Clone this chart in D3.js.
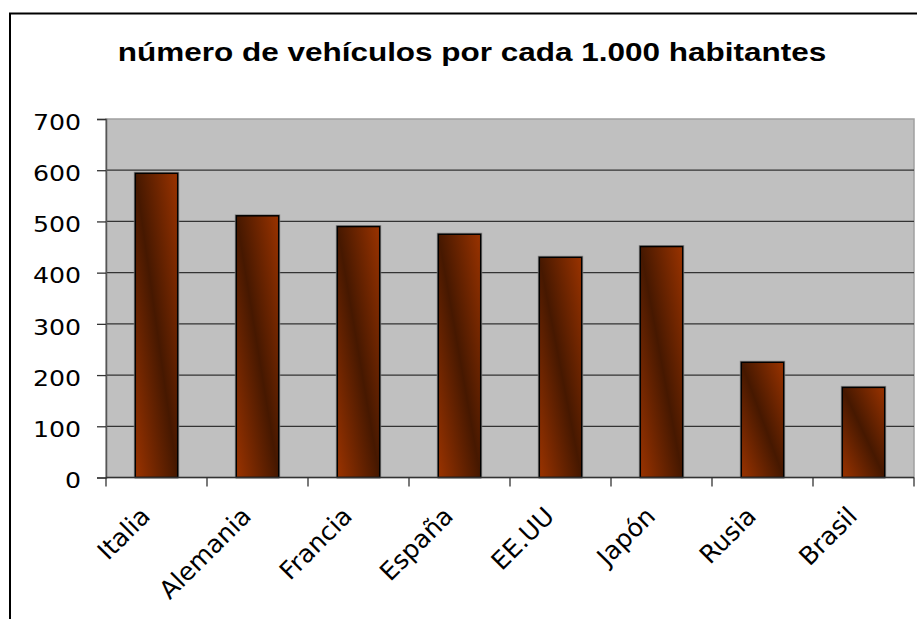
<!DOCTYPE html>
<html><head><meta charset="utf-8">
<script src="https://cdn.jsdelivr.net/npm/d3@7"></script>
<style>body{margin:0;background:#fff;}svg{display:block;}</style>
</head><body>
<script>
const categories = ["Italia","Alemania","Francia","España","EE.UU","Japón","Rusia","Brasil"];
const values = [594, 511, 490, 475, 430, 451, 225, 176];
const yTicks = [0,100,200,300,400,500,600,700];
const title = "número de vehículos por cada 1.000 habitantes";

(function(){
const W = 917, H = 619;
const svg = d3.select("body").append("svg").attr("width", W).attr("height", H);
const defs = svg.append("defs");
const g = defs.append("linearGradient").attr("id","barGrad")
  .attr("x1",0).attr("y1",1).attr("x2",1).attr("y2",0);
g.append("stop").attr("offset","0%").attr("stop-color","#9a3300");
g.append("stop").attr("offset","50%").attr("stop-color","#461800");
g.append("stop").attr("offset","100%").attr("stop-color","#9a3300");

svg.append("rect").attr("x",10).attr("y",13.5).attr("width",W).attr("height",H)
  .attr("fill","none").attr("stroke","#000").attr("stroke-width",2);

const pL = 106, pR = 914, pT = 119, pB = 477.5;
const x = d3.scaleBand().domain(categories).range([pL,pR]).paddingInner(0.58).paddingOuter(0.29);
const xb = d3.scaleBand().domain(categories).range([pL,pR]);
const y = d3.scaleLinear().domain([0,700]).range([pB,pT]);

svg.append("rect").attr("x",pL).attr("y",pT).attr("width",pR-pL).attr("height",pB-pT)
  .attr("fill","#c0c0c0").attr("stroke","#a0a0a0").attr("stroke-width",1.5);

svg.append("g").selectAll("line").data(yTicks.filter(d=>d>0 && d<700)).join("line")
  .attr("x1",pL).attr("x2",pR).attr("y1",d=>y(d)).attr("y2",d=>y(d))
  .attr("stroke","#333").attr("stroke-width",1.3);

const bars = svg.append("g");
bars.selectAll("rect.sh").data(categories).join("rect").attr("class","sh")
  .attr("x",d=>x(d)-1).attr("y",(d,i)=>y(values[i])-1)
  .attr("width",x.bandwidth()+2).attr("height",(d,i)=>pB-y(values[i])+1)
  .attr("fill","none").attr("stroke","#888").attr("stroke-width",1);
bars.selectAll("rect.b").data(categories).join("rect").attr("class","b")
  .attr("x",d=>x(d)).attr("y",(d,i)=>y(values[i]))
  .attr("width",x.bandwidth()).attr("height",(d,i)=>pB-y(values[i]))
  .attr("fill","url(#barGrad)").attr("stroke","#000").attr("stroke-width",1.5);

const ya = svg.append("g").attr("transform",`translate(${pL},0)`)
  .call(d3.axisLeft(y).tickValues(yTicks).tickSize(9).tickPadding(15).tickFormat(d3.format("d")));
ya.select(".domain").attr("stroke","#555").attr("stroke-width",1.5);
ya.selectAll(".tick line").attr("stroke","#333").attr("stroke-width",1.3);
ya.selectAll("text").attr("x",0).attr("dy","0.34em")
  .attr("transform","translate(-25,3) scale(1.2,1)")
  .attr("font-family","DejaVu Sans, Verdana, sans-serif").attr("font-size",21).attr("fill","#000");

const xa = svg.append("g").attr("transform",`translate(0,${pB})`);
xa.append("line").attr("x1",pL).attr("x2",pR).attr("y1",0).attr("y2",0).attr("stroke","#333").attr("stroke-width",1.5);
const edges = categories.map(d=>xb(d)).concat([pR]);
xa.selectAll("line.t").data(edges).join("line").attr("class","t")
  .attr("x1",d=>d).attr("x2",d=>d).attr("y1",0).attr("y2",9).attr("stroke","#333").attr("stroke-width",1.3);
xa.selectAll("text").data(categories).join("text")
  .attr("transform",d=>`translate(${xb(d)+xb.bandwidth()/2-11},${34}) rotate(-45)`)
  .attr("text-anchor","end").attr("dy","0.35em")
  .attr("font-family","DejaVu Sans, Verdana, sans-serif").attr("font-size",25).attr("fill","#000")
  .text(d=>d);

svg.append("text").attr("transform","translate(472,60.5) scale(1.26,1)").attr("text-anchor","middle")
  .attr("font-family","Liberation Sans, Arial, sans-serif").attr("font-weight","bold").attr("font-size",25)
  .text(title);
})();
</script>
</body></html>
